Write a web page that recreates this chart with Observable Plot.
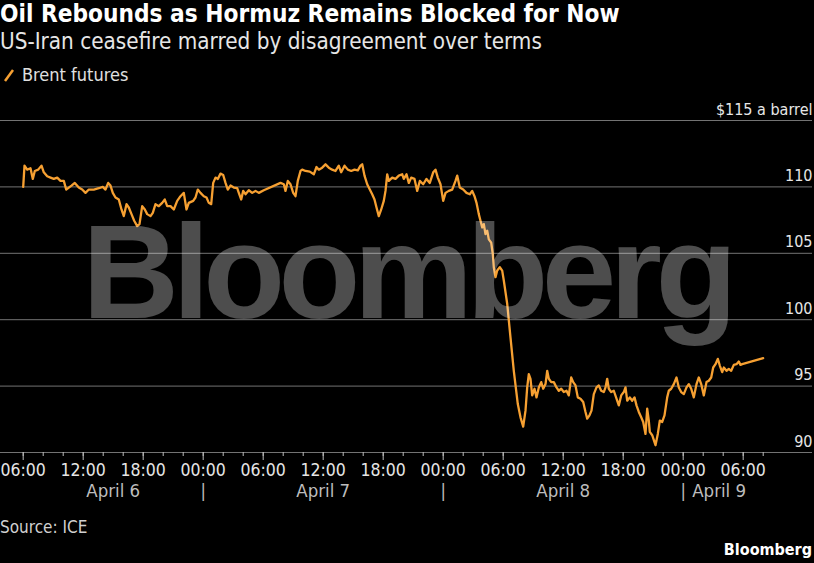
<!DOCTYPE html>
<html>
<head>
<meta charset="utf-8">
<script src="https://cdn.jsdelivr.net/npm/d3@7"></script>
<script src="https://cdn.jsdelivr.net/npm/@observablehq/plot@0.6"></script>
<style>
html,body{margin:0;padding:0;background:#000;}
#wrap{position:relative;width:814px;height:563px;background:#000;overflow:hidden;
  font-family:"DejaVu Sans Condensed","DejaVu Sans",sans-serif;font-stretch:condensed;color:#ddd;}
.t{position:absolute;white-space:nowrap;line-height:1;}
#title{left:0;top:2px;font-size:24.2px;font-weight:bold;color:#fff;}
#subtitle{left:0;top:30px;font-size:22.3px;color:#e6e6e6;}
#legend{left:0;top:66px;font-size:18px;color:#e0e0e0;}
#legend svg{vertical-align:-1px;margin-right:7px;margin-left:3px;}
#source{left:0;top:519px;font-size:17px;color:#d0d0d0;}
#logo{right:2px;top:542px;font-size:16px;font-weight:bold;color:#fff;}
#chart{position:absolute;left:0;top:92px;}
.wm{letter-spacing:-6.5px;}
</style>
</head>
<body>
<div id="wrap">
  <div class="t" id="title">Oil Rebounds as Hormuz Remains Blocked for Now</div>
  <div class="t" id="subtitle">US-Iran ceasefire marred by disagreement over terms</div>
  <div class="t" id="legend"><svg width="12" height="14"><line x1="2" y1="13" x2="10" y2="2" stroke="#f6a032" stroke-width="2.5"/></svg>Brent futures</div>
  <div id="chart"></div>
  <div class="t" id="source">Source: ICE</div>
  <div class="t" id="logo">Bloomberg</div>
</div>
<script>
// Brent futures, hours after April 6 06:00, and price ($/barrel)
const seriesName = "Brent futures";
const startTime = Date.UTC(2026, 3, 6, 6, 0);
const hours = [0,0.13,0.4,0.73,0.96,1.16,1.5,1.83,2.06,2.4,2.73,3.06,3.4,3.73,4.06,4.3,4.56,4.83,5.16,5.56,5.9,6.23,6.56,7.06,7.56,7.96,8.23,8.5,8.73,8.96,9.23,9.56,9.83,10.06,10.33,10.56,10.83,11.1,11.4,11.63,11.9,12.16,12.4,12.73,12.96,13.23,13.56,13.9,14.16,14.4,14.73,15.06,15.4,15.73,16.06,16.33,16.56,17.0,17.23,17.46,17.73,18.06,18.33,18.56,18.8,19.0,19.23,19.46,19.73,20.0,20.23,20.46,20.73,21.06,21.4,21.56,21.8,22.0,22.23,22.56,22.9,23.23,23.56,24.06,25.73,26.06,26.23,26.46,26.73,27.0,27.23,27.46,27.73,27.9,28.23,28.66,29.06,29.33,29.56,29.9,30.23,30.56,30.9,31.23,31.56,31.8,32.13,32.46,32.8,33.13,33.46,33.73,33.9,34.13,34.4,34.66,34.9,35.13,35.33,35.56,35.8,36.06,36.23,36.4,36.56,36.9,37.23,37.56,37.9,38.06,38.33,38.56,38.8,39.13,39.4,39.66,40.0,40.33,40.66,41.0,41.23,41.46,41.73,42.0,42.23,42.56,42.9,43.23,43.4,43.66,44.0,44.33,44.66,44.9,45.13,45.33,45.56,45.73,45.9,46.06,46.23,46.4,46.56,46.8,46.96,47.06,47.23,47.4,47.66,47.9,48.06,48.4,48.73,49.06,49.46,49.73,50.0,50.23,50.4,50.56,50.73,50.9,51.13,51.33,51.56,51.8,52.0,52.23,52.4,52.56,52.8,53.06,53.33,53.56,53.8,54.06,54.33,54.56,54.8,55.0,55.23,55.46,55.73,56.0,56.23,56.4,56.63,56.83,57.06,57.33,57.56,57.8,58.06,58.23,58.4,58.56,58.8,59.06,59.33,59.56,59.8,60.06,60.23,60.4,60.66,60.9,61.13,61.33,61.56,61.8,62.0,62.23,62.4,62.56,62.66,62.9,63.23,63.46,63.66,63.9,64.13,64.4,64.56,64.8,65.06,65.33,65.56,65.8,66.06,66.33,66.56,66.8,67.06,67.33,67.56,67.8,68.06,68.33,68.56,68.8,69.0,69.23,69.46,69.66,69.9,70.06,70.33,70.56,70.8,71.06,71.33,71.56,71.73,71.9,74.0];
const price = [110.0,111.6,111.3,111.4,110.6,111.2,111.3,111.6,111.1,110.8,110.7,110.6,110.7,110.45,110.45,109.8,109.95,110.1,110.3,109.95,109.8,109.55,109.8,109.8,109.9,110.0,109.8,110.3,110.1,109.55,109.2,109.05,108.3,107.8,108.7,108.45,107.95,107.45,107.05,107.2,108.55,108.3,107.95,107.8,108.05,108.7,108.55,108.8,109.05,108.55,108.55,108.3,108.95,109.3,109.55,108.3,108.8,108.95,109.2,109.8,109.55,109.3,109.2,108.8,108.7,110.3,110.7,110.6,111.0,110.9,110.3,109.8,110.1,109.95,109.9,109.55,109.05,109.7,109.45,109.75,109.55,109.7,109.55,109.75,110.3,110.2,109.7,110.45,110.2,109.55,109.3,110.45,111.2,111.3,111.2,111.15,110.95,111.5,111.3,111.45,111.7,111.45,111.3,111.2,111.6,111.1,111.6,111.3,111.2,111.3,111.25,111.6,111.7,110.85,110.2,109.8,109.45,109.05,108.45,107.8,108.3,108.95,109.7,110.95,110.45,110.7,110.6,110.85,110.95,110.6,110.95,110.3,110.7,110.6,109.7,110.45,110.2,110.6,110.3,111.1,111.3,110.7,110.2,108.95,109.55,109.7,109.8,110.45,110.85,109.95,109.8,109.55,109.45,109.7,109.3,108.8,107.95,107.45,106.95,107.2,106.45,106.7,106.05,105.8,104.95,103.95,103.2,103.7,103.95,103.7,102.95,101.2,98.65,96.15,93.65,92.65,91.95,93.15,94.9,95.9,95.55,94.3,94.8,94.15,94.9,95.3,94.8,95.15,96.15,95.55,95.3,95.3,94.9,94.65,94.8,94.55,94.65,94.3,95.65,95.3,95.05,94.15,94.05,93.8,93.05,92.55,92.8,93.15,94.4,94.9,95.05,94.65,94.55,94.9,95.55,94.8,94.55,94.65,94.05,93.55,94.3,94.55,94.9,93.9,94.15,93.9,94.15,93.55,93.05,92.65,92.3,91.4,93.3,92.4,91.55,91.3,90.55,91.4,92.4,92.3,92.8,94.15,94.65,94.8,95.15,95.65,94.9,94.55,94.4,94.9,95.15,94.8,94.15,95.15,95.65,95.15,94.3,95.3,95.4,95.65,96.4,96.65,97.05,96.55,96.05,96.4,96.15,96.3,96.15,96.6,96.65,96.85,96.6,96.65,97.1];

// Axis ticks and labels
const yTicks = [90, 95, 100, 105, 110, 115];
const yTickLabels = ["90", "95", "100", "105", "110", "$115 a barrel"];
const minorTickHours = [0,2,4,6,8,10,12,14,16,18,20,22,24,26,28,30,32,34,36,38,40,42,44,46,48,50,52,54,56,58,60,62,64,66,68,70,72,74];
const majorTickHours = [0,6,12,18,24,30,36,42,48,54,60,66,72];
const dayLabels = ["April 6", "April 7", "April 8", "April 9"];
const dayLabelHours = [9, 30, 54, 66];
const dayLabelAnchors = ["middle", "middle", "middle", "start"];
const daySeparatorHours = [18, 42, 66];
const domainHours = [-2.27, 78.93];

const H = 3600e3;
const toDate = h => new Date(startTime + h * H);
const data = hours.map((h, i) => ({date: toDate(h), price: price[i], series: seriesName}));
const font = '"DejaVu Sans Condensed","DejaVu Sans",sans-serif';
const dayRows = dayLabelHours.map((h, i) => ({date: toDate(h), label: dayLabels[i], anchor: dayLabelAnchors[i]}));

const chart = Plot.plot({
  width: 814,
  height: 420,
  marginLeft: 0,
  marginRight: 2,
  marginTop: 28,
  marginBottom: 60,
  style: {background: "#000", fontFamily: font, fontStretch: "condensed", overflow: "visible"},
  x: {type: "utc", domain: domainHours.map(toDate), label: null},
  y: {domain: [90, 115], label: null, axis: null},
  marks: [
    Plot.ruleY(yTicks, {stroke: "#737373", strokeWidth: 1}),
    Plot.line(data, {x: "date", y: "price", stroke: "#f6a032", strokeWidth: 2.3, strokeLinejoin: "round"}),
    Plot.text(["Bloomberg"], {frameAnchor: "middle", dx: 0, dy: -11, text: d => d, fill: "#fff", fillOpacity: 0.3,
      fontSize: 134, fontWeight: "bold", fontFamily: "Liberation Sans, Arial, sans-serif", className: "wm"}),
    Plot.text(yTicks, {y: d => d, text: (d, i) => yTickLabels[i], frameAnchor: "right", textAnchor: "end",
      lineAnchor: "bottom", dy: -6, dx: 0, fill: "#e6e6e6", fontSize: 16}),
    Plot.axisX(minorTickHours.map(toDate), {tickSize: 4, stroke: "#bdbdbd", tickFormat: () => ""}),
    Plot.axisX(majorTickHours.map(toDate), {tickSize: 8, stroke: "#bdbdbd", tickPadding: 3, fill: "#e6e6e6",
      fontSize: 17.5, tickFormat: d3.utcFormat("%H:%M")}),
    Plot.text(dayRows.filter(d => d.anchor === "middle"),
      {x: "date", text: "label", frameAnchor: "bottom", dy: 44, fill: "#bdbdbd", fontSize: 18.5}),
    Plot.text(dayRows.filter(d => d.anchor === "start"),
      {x: "date", text: "label", frameAnchor: "bottom", textAnchor: "start", dx: 9, dy: 44, fill: "#bdbdbd", fontSize: 18.5}),
    Plot.text(daySeparatorHours.map(toDate), {x: d => d, text: () => "|", frameAnchor: "bottom", dy: 44, fill: "#bdbdbd", fontSize: 18})
  ]
});
document.getElementById("chart").appendChild(chart);
</script>
</body>
</html>
